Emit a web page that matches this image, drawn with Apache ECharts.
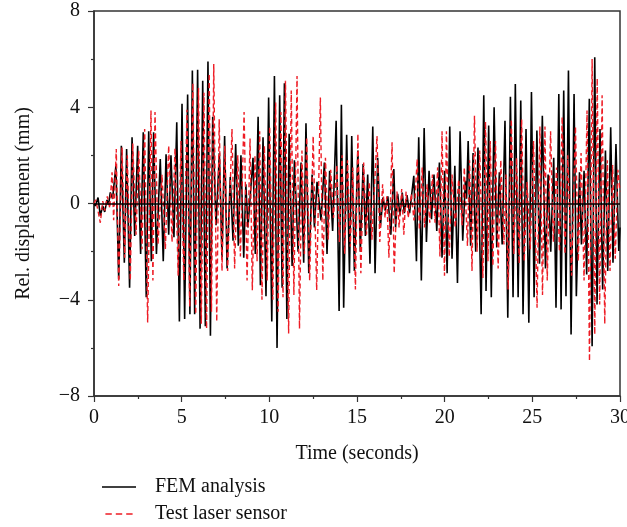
<!DOCTYPE html>
<html>
<head>
<meta charset="utf-8">
<script src="https://cdn.jsdelivr.net/npm/echarts@6/dist/echarts.min.js"></script>
<style>html,body{margin:0;padding:0;background:#fff;overflow:hidden}#c{width:627px;height:527px}</style>
</head>
<body>
<div id="c"></div>
<script>
// Time (s) and relative displacement (mm) of the FEM analysis
const femTime = [0,0.08,0.23,0.36,0.5,0.61,0.74,0.83,0.93,1.06,1.25,1.41,1.56,1.73,1.86,2.03,2.17,2.32,2.49,2.66,2.81,2.98,3.12,3.27,3.4,3.56,3.78,3.95,4.11,4.26,4.39,4.56,4.72,4.87,5.02,5.17,5.34,5.47,5.61,5.74,5.91,6.05,6.2,6.35,6.5,6.64,6.77,6.96,7.15,7.3,7.45,7.59,7.77,7.93,8.08,8.23,8.38,8.54,8.66,8.78,9.07,9.2,9.36,9.49,9.64,9.81,9.96,10.14,10.29,10.44,10.59,10.73,10.86,11.0,11.13,11.3,11.43,11.64,11.81,11.96,12.09,12.25,12.44,12.57,12.72,12.95,13.14,13.29,13.44,13.61,13.81,13.98,14.11,14.24,14.41,14.57,14.7,14.85,15.05,15.19,15.35,15.48,15.61,15.74,15.9,16.03,16.18,16.33,16.48,16.61,16.76,16.93,17.1,17.2,17.32,17.45,17.58,17.7,17.85,18.0,18.24,18.39,18.52,18.67,18.83,18.96,19.11,19.25,19.39,19.55,19.7,19.85,20.0,20.14,20.29,20.42,20.58,20.73,20.88,21.03,21.18,21.25,21.34,21.48,21.62,21.77,21.9,22.08,22.23,22.36,22.51,22.66,22.82,22.97,23.12,23.28,23.44,23.6,23.75,23.9,24.03,24.19,24.34,24.47,24.64,24.8,24.95,25.1,25.26,25.41,25.57,25.75,25.9,26.05,26.22,26.35,26.51,26.64,26.79,26.92,27.06,27.21,27.38,27.51,27.69,27.8,27.95,28.1,28.25,28.41,28.56,28.69,28.86,29.01,29.17,29.3,29.47,29.6,29.77,29.93,30.0];
const femDisp = [0,-0.1,0.25,-0.5,-0.1,-0.35,0.15,-0.05,0.46,0.2,1.57,-3.15,2.4,-2.46,2.26,-3.5,2.75,-1.35,2.4,-2.1,2.96,-3.9,3.0,-2.4,2.96,-2.1,1.85,-2.4,2.05,-1.3,2.0,-1.4,3.38,-4.9,4.14,-4.8,4.53,-4.6,5.53,-4.6,5.56,-5.2,5.1,-5.1,5.9,-5.5,3.6,-0.9,2.1,-2.25,2.8,-2.7,1.1,-1.55,2.47,-1.75,2.0,-2.25,0.8,-1.0,1.9,-2.1,3.6,-3.4,2.75,-3.85,4.4,-4.9,5.3,-6.0,4.5,-3.5,5.0,-4.8,2.9,-2.6,1.8,-2.0,1.7,-2.46,3.33,-2.9,1.2,-1.0,0.9,-0.7,1.7,-2.1,1.36,-1.14,3.44,-4.47,4.1,-4.33,2.86,-2.9,2.8,-2.8,2.2,-2.0,1.64,-1.35,1.2,-2.5,3.2,-2.9,1.9,-1.0,0.25,-0.3,0.3,-1.3,1.43,-1.0,0.4,-0.5,0.45,-0.4,0.35,-0.4,1.15,-2.4,2.75,-3.2,3.14,-1.6,1.36,-0.65,1.2,-1.14,1.7,-2.25,1.36,-2.9,3.2,-2.3,1.57,-3.3,3.0,-1.55,0.94,0.2,2.6,-1.76,2.1,-2.0,2.33,-4.6,4.5,-3.64,3.24,-3.9,4.0,-1.83,1.3,-1.7,3.44,-4.75,4.44,-3.9,4.97,-3.9,4.28,-4.6,3.1,-4.96,4.63,-3.9,3.03,-2.5,3.65,-2.7,1.2,-2.0,1.9,-4.33,4.55,-4.4,4.7,-3.85,5.53,-5.44,4.55,-3.85,1.3,-1.7,1.36,-2.95,4.35,-5.93,6.08,-4.2,3.1,-3.57,2.2,-2.8,3.17,-2.46,2.47,-1.97,-1.0];

// Time (s) and relative displacement (mm) from the laser sensor test
const laserTime = [0,0.1,0.2,0.36,0.5,0.62,0.76,0.9,1.03,1.12,1.27,1.41,1.6,1.75,1.9,2.07,2.21,2.4,2.55,2.74,2.89,3.06,3.25,3.36,3.48,3.65,3.88,4.07,4.26,4.45,4.62,4.8,4.96,5.12,5.3,5.46,5.64,5.8,5.96,6.12,6.27,6.42,6.57,6.7,6.83,7.0,7.14,7.3,7.46,7.62,7.87,8.02,8.2,8.35,8.56,8.73,8.9,9.03,9.18,9.3,9.45,9.58,9.72,9.88,10.02,10.2,10.36,10.5,10.66,10.78,10.92,11.1,11.25,11.4,11.58,11.72,11.86,12.0,12.13,12.3,12.5,12.7,12.91,13.05,13.2,13.36,13.5,13.66,13.85,14.0,14.15,14.3,14.46,14.62,14.76,14.91,15.05,15.22,15.38,15.54,15.7,15.85,16.14,16.3,16.46,16.6,16.7,16.82,17.0,17.12,17.28,17.4,17.55,17.67,17.8,17.92,18.1,18.25,18.43,18.56,18.72,18.85,19.0,19.15,19.3,19.45,19.6,19.73,19.85,19.99,20.1,20.26,20.42,20.6,20.8,21.0,21.12,21.3,21.42,21.56,21.7,21.85,22.0,22.18,22.33,22.47,22.6,22.75,22.9,23.05,23.2,23.38,23.5,23.62,23.8,23.95,24.1,24.25,24.39,24.54,24.7,24.88,25.07,25.27,25.43,25.58,25.72,25.85,26.04,26.2,26.38,26.55,26.7,26.86,27.02,27.24,27.46,27.62,27.78,27.95,28.12,28.26,28.41,28.56,28.7,28.84,28.98,29.13,29.28,29.43,29.58,29.73,29.88,30.0];
const laserDisp = [0,0.15,-0.2,-0.8,0.1,-0.3,0.3,-0.2,1.3,-0.7,2.26,-3.43,2.33,-2.25,2.0,-3.2,2.5,-1.3,2.2,-1.9,3.1,-4.95,3.86,-3.2,3.8,-1.7,1.2,-1.9,2.4,-1.6,2.3,-3.0,2.6,-3.2,3.9,-4.3,5.0,-4.6,4.8,-5.0,4.6,-5.2,5.4,-4.5,5.8,-4.9,3.5,-2.8,2.4,-2.8,3.1,-2.7,2.0,-2.2,3.8,-3.2,2.7,-3.6,2.0,-2.4,3.0,-4.0,2.4,-3.2,3.2,-4.0,4.2,-4.5,3.8,-3.9,5.1,-5.4,4.7,-3.8,5.3,-5.2,2.2,-2.1,2.75,-3.2,2.8,-3.6,4.4,-3.2,1.9,-1.5,1.4,-0.6,1.6,-1.6,2.0,-2.1,1.8,-1.8,1.5,-3.57,2.9,-2.9,1.7,-1.3,0.9,-1.5,2.8,-1.6,0.8,-0.6,0.3,-2.25,2.54,-2.9,0.5,-1.0,0.6,-1.3,0.5,-0.6,0.4,-0.7,1.85,-1.1,1.5,-1.0,0.8,-0.8,1.2,-0.8,1.5,-2.2,3.0,-3.0,3.0,-2.2,1.2,-1.0,1.0,-0.9,1.5,-1.76,1.8,-2.8,3.65,-2.0,2.2,-3.1,3.4,-2.4,2.6,-2.6,2.6,-2.7,1.8,-1.7,1.2,-3.57,3.5,-2.1,1.9,-2.5,3.5,-2.4,0.9,-1.9,2.6,-4.33,3.2,-3.8,3.2,-3.2,3.0,-1.6,1.5,-2.0,3.6,-2.1,2.0,-3.0,3.2,-2.4,2.1,-3.2,3.86,-6.55,6.0,-5.44,5.2,-4.2,4.5,-5.0,1.8,-2.8,1.6,-2.3,1.4,0.5];

const seriesNames = ['FEM analysis', 'Test laser sensor'];
const xTicks = [0, 5, 10, 15, 20, 25, 30];
const yTicks = [-8, -4, 0, 4, 8];

const pairs = (t, v) => t.map((x, i) => [x, v[i]]);
const FONT = 'Liberation Serif';
const fmt = v => String(v).replace('-', '\u2212');

const chart = echarts.init(document.getElementById('c'), null, {renderer: 'canvas'});
chart.setOption({
  animation: false,
  backgroundColor: '#fff',
  grid: {left: 94, right: 7, top: 11, bottom: 131, outerBoundsMode: 'none', containLabel: false,
         show: true, borderColor: '#333', borderWidth: 1.5, backgroundColor: 'transparent'},
  legend: {
    orient: 'vertical', left: 102, top: 477, padding: 0, itemWidth: 34, itemHeight: 1.6, itemGap: 7,
    data: [
      {name: seriesNames[0], icon: 'rect', itemStyle: {color: '#000'}},
      {name: seriesNames[1], icon: 'path://M0,0h8v2h-8zM13,0h8v2h-8zM26,0h8v2h-8z', itemStyle: {color: '#ee1c25'}}
    ],
    textStyle: {fontFamily: FONT, fontSize: 20, lineHeight: 20, color: '#111', padding: [0, 0, 0, 14]}
  },
  xAxis: {
    type: 'value', min: xTicks[0], max: xTicks[xTicks.length - 1], interval: 5,
    name: 'Time (seconds)', nameLocation: 'middle', nameGap: 48,
    nameTextStyle: {fontFamily: FONT, fontSize: 20, color: '#111'},
    axisLine: {show: true, onZero: false, lineStyle: {color: '#333', width: 1.5}},
    axisTick: {show: true, length: 6, lineStyle: {color: '#333', width: 1.2}},
    minorTick: {show: true, splitNumber: 2, length: 3, lineStyle: {color: '#333', width: 1.2}},
    axisLabel: {fontFamily: FONT, fontSize: 20, color: '#111', margin: 12, formatter: fmt},
    splitLine: {show: false}
  },
  yAxis: {
    type: 'value', min: yTicks[0], max: yTicks[yTicks.length - 1], interval: 4,
    name: 'Rel. displacement (mm)', nameLocation: 'middle', nameGap: 60,
    nameTextStyle: {fontFamily: FONT, fontSize: 20, color: '#111'},
    axisLine: {show: true, onZero: false, lineStyle: {color: '#333', width: 1.5}},
    axisTick: {show: true, length: 6, lineStyle: {color: '#333', width: 1.2}},
    minorTick: {show: true, splitNumber: 2, length: 3, lineStyle: {color: '#333', width: 1.2}},
    axisLabel: {fontFamily: FONT, fontSize: 20, color: '#111', margin: 14, formatter: fmt},
    splitLine: {show: false}
  },
  series: [
    {
      name: seriesNames[0], type: 'line', data: pairs(femTime, femDisp),
      showSymbol: false, symbol: 'none', color: '#000',
      lineStyle: {color: '#000', width: 1.6}
    },
    {
      name: seriesNames[1], type: 'line', data: pairs(laserTime, laserDisp),
      showSymbol: false, symbol: 'none', color: '#ee1c25',
      lineStyle: {color: '#ee1c25', width: 1.4, type: [5, 3]},
      markLine: {
        silent: true, symbol: 'none', label: {show: false},
        lineStyle: {color: '#000', width: 1.5, type: 'solid'},
        data: [{yAxis: 0}]
      }
    }
  ]
});
</script>
</body>
</html>
